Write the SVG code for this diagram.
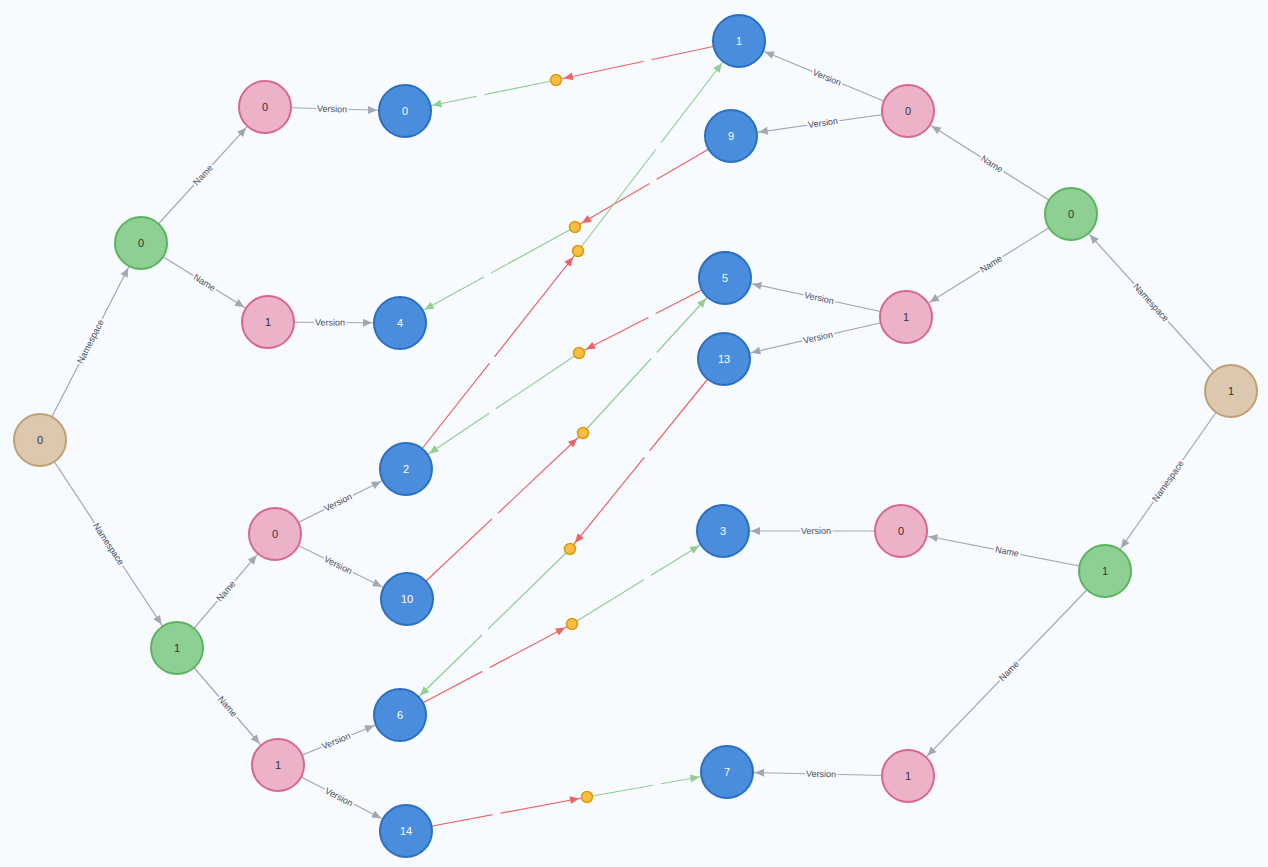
<svg xmlns="http://www.w3.org/2000/svg" width="1268" height="867" viewBox="0 0 1268 867">
<style>
.g{stroke:#a3a7b3;stroke-width:1.2;marker-end:url(#ag)}
.r{stroke:#ee6363;stroke-width:1.2;marker-end:url(#ar)}
.gr{stroke:#93cd91;stroke-width:1.2}
.gb{marker-end:url(#agb)}
.gx{fill:#f7fbff}
.lb{font:9px "Liberation Sans",Arial,sans-serif;fill:#4a4a5a;stroke:#f7fbff;stroke-width:4;paint-order:stroke;text-anchor:middle;dominant-baseline:central}
.nt{font:11px "Liberation Sans",Arial,sans-serif;text-anchor:middle;dominant-baseline:central;fill:#333}
.bl circle{fill:#4a8ddc;stroke:#2a6fc0;stroke-width:2}
.bl text{fill:#fff}
.pk circle{fill:#ecb3c8;stroke:#d9668f;stroke-width:2}
.gn circle{fill:#8ecf93;stroke:#5cb460;stroke-width:2}
.tn circle{fill:#dcc8ae;stroke:#bf9f73;stroke-width:2}
.dt{fill:#fbbd44;stroke:#d99b0d;stroke-width:1.5}
</style>
<defs>
<marker id="ag" markerUnits="userSpaceOnUse" viewBox="-40 -5 40 10" markerWidth="40" markerHeight="10" orient="auto"><path d="M-37,-4 L-28,0 L-37,4z" fill="#a3a7b3"/></marker>
<marker id="ar" markerUnits="userSpaceOnUse" viewBox="-40 -5 40 10" markerWidth="40" markerHeight="10" orient="auto"><path d="M-17,-4 L-8,0 L-17,4z" fill="#ee6363"/></marker>
<marker id="agb" markerUnits="userSpaceOnUse" viewBox="-40 -5 40 10" markerWidth="40" markerHeight="10" orient="auto"><path d="M-37,-4 L-28,0 L-37,4z" fill="#93cd91"/></marker>
</defs>
<rect width="1268" height="867" fill="#f7fbff"/>
<g id="connectors">
<line class="g" x1="40" y1="440" x2="141" y2="243"/>
<line class="g" x1="40" y1="440" x2="177" y2="648"/>
<line class="g" x1="141" y1="243" x2="265" y2="107"/>
<line class="g" x1="141" y1="243" x2="268" y2="322"/>
<line class="g" x1="177" y1="648" x2="275" y2="534"/>
<line class="g" x1="177" y1="648" x2="278" y2="765"/>
<line class="g" x1="265" y1="107" x2="405" y2="111"/>
<line class="g" x1="268" y1="322" x2="400" y2="323"/>
<line class="g" x1="275" y1="534" x2="406" y2="469"/>
<line class="g" x1="275" y1="534" x2="407" y2="599"/>
<line class="g" x1="278" y1="765" x2="400" y2="715"/>
<line class="g" x1="278" y1="765" x2="406" y2="831"/>
<line class="g" x1="1231" y1="391" x2="1071" y2="214"/>
<line class="g" x1="1231" y1="391" x2="1105" y2="571"/>
<line class="g" x1="1071" y1="214" x2="908" y2="111"/>
<line class="g" x1="1071" y1="214" x2="906" y2="317"/>
<line class="g" x1="1105" y1="571" x2="901" y2="531"/>
<line class="g" x1="1105" y1="571" x2="908" y2="776"/>
<line class="g" x1="908" y1="111" x2="739" y2="41"/>
<line class="g" x1="908" y1="111" x2="731" y2="136"/>
<line class="g" x1="906" y1="317" x2="725" y2="278"/>
<line class="g" x1="906" y1="317" x2="724" y2="359"/>
<line class="g" x1="901" y1="531" x2="723" y2="531"/>
<line class="g" x1="908" y1="776" x2="727" y2="772"/>
<line class="r" x1="739" y1="41" x2="556" y2="80"/>
<line class="gr gb" x1="556" y1="80" x2="405" y2="111"/>
<line class="r" x1="731" y1="136" x2="575" y2="227"/>
<line class="gr gb" x1="575" y1="227" x2="400" y2="323"/>
<line class="r" x1="406" y1="469" x2="578" y2="251"/>
<line class="gr gb" x1="578" y1="251" x2="739" y2="41"/>
<line class="r" x1="725" y1="278" x2="579" y2="353"/>
<line class="gr gb" x1="579" y1="353" x2="406" y2="469"/>
<line class="r" x1="407" y1="599" x2="583" y2="433"/>
<line class="gr gb" x1="583" y1="433" x2="725" y2="278"/>
<line class="r" x1="724" y1="359" x2="570" y2="549"/>
<line class="gr gb" x1="570" y1="549" x2="400" y2="715"/>
<line class="r" x1="400" y1="715" x2="572" y2="624"/>
<line class="gr gb" x1="572" y1="624" x2="723" y2="531"/>
<line class="r" x1="406" y1="831" x2="587" y2="797"/>
<line class="gr gb" x1="587" y1="797" x2="727" y2="772"/>
<g class="gx">
<circle cx="647.5" cy="60.5" r="4"/><circle cx="480.5" cy="95.5" r="4"/>
<circle cx="653" cy="181.5" r="4"/><circle cx="487.5" cy="275" r="4"/>
<circle cx="492" cy="360" r="4"/><circle cx="658.5" cy="146" r="4"/>
<circle cx="652" cy="315.5" r="4"/><circle cx="492.5" cy="411" r="4"/>
<circle cx="495" cy="516" r="4"/><circle cx="654" cy="355.5" r="4"/>
<circle cx="647" cy="454" r="4"/><circle cx="485" cy="632" r="4"/>
<circle cx="486" cy="669.5" r="4"/><circle cx="647.5" cy="577.5" r="4"/>
<circle cx="496.5" cy="814" r="4"/><circle cx="657" cy="784.5" r="4"/>
</g>
<text class="lb" transform="translate(90.5,341.5) rotate(-62.9)">Namespace</text>
<text class="lb" transform="translate(108.5,544) rotate(56.6)">Namespace</text>
<text class="lb" transform="translate(203,175) rotate(-47.6)">Name</text>
<text class="lb" transform="translate(204.5,282.5) rotate(31.9)">Name</text>
<text class="lb" transform="translate(226,591) rotate(-49.3)">Name</text>
<text class="lb" transform="translate(227.5,706.5) rotate(49.2)">Name</text>
<text class="lb" transform="translate(332,109) rotate(1.6)">Version</text>
<text class="lb" transform="translate(330,322.5) rotate(0.4)">Version</text>
<text class="lb" transform="translate(338,502.5) rotate(-26.4)">Version</text>
<text class="lb" transform="translate(338,565) rotate(26.2)">Version</text>
<text class="lb" transform="translate(336,741) rotate(-22.3)">Version</text>
<text class="lb" transform="translate(339,797) rotate(27.3)">Version</text>
<text class="lb" transform="translate(1151,302.5) rotate(47.9)">Namespace</text>
<text class="lb" transform="translate(1168,481) rotate(-55)">Namespace</text>
<text class="lb" transform="translate(992,164) rotate(32.3)">Name</text>
<text class="lb" transform="translate(991,264) rotate(-32)">Name</text>
<text class="lb" transform="translate(1007,551.5) rotate(11.1)">Name</text>
<text class="lb" transform="translate(1009,671) rotate(-46.1)">Name</text>
<text class="lb" transform="translate(827,77.5) rotate(22.5)">Version</text>
<text class="lb" transform="translate(823,123) rotate(-8)">Version</text>
<text class="lb" transform="translate(819,298) rotate(12.2)">Version</text>
<text class="lb" transform="translate(818,337.5) rotate(-13)">Version</text>
<text class="lb" transform="translate(816,531)">Version</text>
<text class="lb" transform="translate(821,774) rotate(1.3)">Version</text>
</g>
<g id="dots">
<circle class="dt" cx="556" cy="80" r="5.5"/>
<circle class="dt" cx="575" cy="227" r="5.5"/>
<circle class="dt" cx="578" cy="251" r="5.5"/>
<circle class="dt" cx="579" cy="353" r="5.5"/>
<circle class="dt" cx="583" cy="433" r="5.5"/>
<circle class="dt" cx="570" cy="549" r="5.5"/>
<circle class="dt" cx="572" cy="624" r="5.5"/>
<circle class="dt" cx="587" cy="797" r="5.5"/>
</g>
<g id="ns0" class="tn"><circle cx="40" cy="440" r="26"/><text class="nt" x="40" y="440">0</text></g>
<g id="ns1" class="tn"><circle cx="1231" cy="391" r="26"/><text class="nt" x="1231" y="391">1</text></g>
<g id="gl0" class="gn"><circle cx="141" cy="243" r="26"/><text class="nt" x="141" y="243">0</text></g>
<g id="gl1" class="gn"><circle cx="177" cy="648" r="26"/><text class="nt" x="177" y="648">1</text></g>
<g id="gr0" class="gn"><circle cx="1071" cy="214" r="26"/><text class="nt" x="1071" y="214">0</text></g>
<g id="gr1" class="gn"><circle cx="1105" cy="571" r="26"/><text class="nt" x="1105" y="571">1</text></g>
<g id="pl00" class="pk"><circle cx="265" cy="107" r="26"/><text class="nt" x="265" y="107">0</text></g>
<g id="pl01" class="pk"><circle cx="268" cy="322" r="26"/><text class="nt" x="268" y="322">1</text></g>
<g id="pl10" class="pk"><circle cx="275" cy="534" r="26"/><text class="nt" x="275" y="534">0</text></g>
<g id="pl11" class="pk"><circle cx="278" cy="765" r="26"/><text class="nt" x="278" y="765">1</text></g>
<g id="pr00" class="pk"><circle cx="908" cy="111" r="26"/><text class="nt" x="908" y="111">0</text></g>
<g id="pr01" class="pk"><circle cx="906" cy="317" r="26"/><text class="nt" x="906" y="317">1</text></g>
<g id="pr10" class="pk"><circle cx="901" cy="531" r="26"/><text class="nt" x="901" y="531">0</text></g>
<g id="pr11" class="pk"><circle cx="908" cy="776" r="26"/><text class="nt" x="908" y="776">1</text></g>
<g id="b0" class="bl"><circle cx="405" cy="111" r="26"/><text class="nt" x="405" y="111">0</text></g>
<g id="b4" class="bl"><circle cx="400" cy="323" r="26"/><text class="nt" x="400" y="323">4</text></g>
<g id="b2" class="bl"><circle cx="406" cy="469" r="26"/><text class="nt" x="406" y="469">2</text></g>
<g id="b10" class="bl"><circle cx="407" cy="599" r="26"/><text class="nt" x="407" y="599">10</text></g>
<g id="b6" class="bl"><circle cx="400" cy="715" r="26"/><text class="nt" x="400" y="715">6</text></g>
<g id="b14" class="bl"><circle cx="406" cy="831" r="26"/><text class="nt" x="406" y="831">14</text></g>
<g id="b1" class="bl"><circle cx="739" cy="41" r="26"/><text class="nt" x="739" y="41">1</text></g>
<g id="b9" class="bl"><circle cx="731" cy="136" r="26"/><text class="nt" x="731" y="136">9</text></g>
<g id="b5" class="bl"><circle cx="725" cy="278" r="26"/><text class="nt" x="725" y="278">5</text></g>
<g id="b13" class="bl"><circle cx="724" cy="359" r="26"/><text class="nt" x="724" y="359">13</text></g>
<g id="b3" class="bl"><circle cx="723" cy="531" r="26"/><text class="nt" x="723" y="531">3</text></g>
<g id="b7" class="bl"><circle cx="727" cy="772" r="26"/><text class="nt" x="727" y="772">7</text></g>
</svg>
